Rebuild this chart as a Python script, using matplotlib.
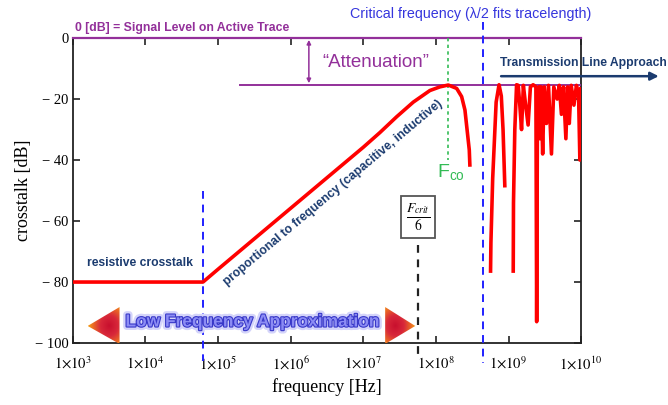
import numpy as np
import matplotlib
matplotlib.use('Agg')
import matplotlib.pyplot as plt
import matplotlib.patheffects as pe
from matplotlib.patches import Polygon
from matplotlib.colors import LinearSegmentedColormap

plt.rcParams['font.family'] = ['Liberation Sans', 'DejaVu Sans']
plt.rcParams['mathtext.fontset'] = 'stix'

# crosstalk vs frequency: resistive plateau, 20 dB/dec rise, roll-off after F_co
lf_freq = [1e3, 6.2e4, 1e5, 1e6, 1e7, 1.69e7, 2.88e7, 4.88e7, 8.26e7, 1.135e8, 1.48e8,
           1.93e8, 2.26e8, 2.51e8, 2.69e8, 2.88e8, 2.94e8]
lf_db = [-80, -80, -75.8, -55.8, -35.8, -31, -25.8, -21, -17.2, -16, -15.4,
         -16.5, -19.2, -23.6, -30.2, -36.7, -42.2]

# transmission line region (first lobe, then the dense resonances)
tl1_freq = [5.65e8, 5.72e8, 6.05e8, 6.75e8, 7.4e8, 7.95e8, 8.4e8, 8.9e8]
tl1_db = [-77, -67, -46, -21, -15.3, -19, -30, -49]
tl2_freq = [1.16e9, 1.17e9, 1.22e9, 1.29e9, 1.36e9, 1.43e9, 1.51e9, 1.6e9, 1.72e9, 1.86e9,
            2.0e9, 2.18e9, 2.38e9, 2.44e9, 2.5e9, 2.62e9, 2.7e9, 2.8e9, 2.95e9, 3.1e9,
            3.33e9, 3.55e9, 3.9e9, 4.2e9, 4.67e9, 5.0e9, 5.35e9, 5.7e9, 6.16e9, 6.5e9,
            6.86e9, 7.3e9, 7.95e9, 8.6e9, 9.2e9, 9.6e9, 9.9e9]
tl2_db = [-77, -54, -30, -15.3, -15.5, -22, -30, -15.5, -22, -28.5,
          -16, -15.3, -16, -93, -25, -16, -33, -16, -38, -16,
          -28, -15.5, -38, -16, -20, -15.5, -25, -16, -33, -16,
          -28, -15.5, -22, -15.5, -18, -40, -16]

f_resistive = 6.2e4      # end of resistive plateau
f_crit6 = 5.6e7          # F_crit / 6
f_crit = 4.5e8           # lambda/2 fits trace length
f_co = lf_freq[int(np.argmax(lf_db))]
peak_db = max(lf_db)

xticks = [1e3, 1e4, 1e5, 1e6, 1e7, 1e8, 1e9, 1e10]
xticklabels = [r'$1{\times}10^{%d}$' % e for e in range(3, 11)]
yticks = [0, -20, -40, -60, -80, -100]
yticklabels = ['0', '\u2212 20', '\u2212 40', '\u2212 60', '\u2212 80', '\u2212 100']

purple = '#93309a'
navy = '#1b3b6f'
blue = '#2020ff'
green = '#33bb55'

fig = plt.figure(figsize=(6.68, 4.05), dpi=100)
ax = fig.add_axes([0.109, 0.153, 0.761, 0.753])
ax.set_xscale('log')
ax.set_xlim(1e3, 1e10)
ax.set_ylim(-100, 0)

ax.plot(lf_freq, lf_db, color='#ff0000', lw=2.6, solid_capstyle='butt', zorder=5)
ax.plot(tl1_freq, tl1_db, color='#ff0000', lw=2.6, solid_capstyle='butt', zorder=5)
ax.plot(tl2_freq, tl2_db, color='#ff0000', lw=2.6, solid_capstyle='butt', zorder=5)

# axes styling
for side in ['left', 'bottom', 'right']:
    ax.spines[side].set_color('#222222')
    ax.spines[side].set_linewidth(1.3)
ax.spines['top'].set_color(purple)
ax.spines['top'].set_linewidth(1.6)
ax.set_xticks(xticks)
ax.set_xticklabels(xticklabels, fontsize=10.5)
ax.minorticks_off()
ax.set_yticks(yticks)
ax.set_yticklabels(yticklabels, fontfamily='Liberation Serif', fontsize=10.5)
ax.tick_params(direction='in', length=5, width=1.2, top=True, right=True, color='#222222')
ax.tick_params(axis='x', pad=9)
ax.tick_params(axis='y', pad=3)
ax.set_xlabel('frequency [Hz]', fontfamily='Liberation Serif', fontsize=13, labelpad=4)
ax.set_ylabel('crosstalk [dB]', fontfamily='Liberation Serif', fontsize=13, labelpad=2)

# vertical marker lines
ax.plot([f_resistive, f_resistive], [-50, -106], color=blue, lw=1.4, ls=(0, (4, 3)),
        clip_on=False, zorder=3)
ax.plot([f_crit, f_crit], [5.2, -106.5], color=blue, lw=1.4, ls=(0, (4, 3)),
        clip_on=False, zorder=3)
ax.plot([f_crit6, f_crit6], [-68, -105], color='#222222', lw=1.6, ls=(0, (3.5, 3)),
        clip_on=False, zorder=3)
ax.plot([f_co, f_co], [0, -40], color=green, lw=1.2, ls=(0, (2, 2)), zorder=3)

# attenuation level
ax.plot([2.0e5, 1e10], [peak_db, peak_db], color=purple, lw=1.4, zorder=4)
ax.annotate('', xy=(1.78e6, -0.6), xytext=(1.78e6, peak_db + 0.6),
            arrowprops=dict(arrowstyle='<|-|>', color=purple, lw=1.1, mutation_scale=6,
                            shrinkA=0, shrinkB=0))
ax.text(2.7e6, -7.9, '\u201cAttenuation\u201d', color=purple, fontsize=13.5, va='center')

ax.text(1.07e3, 1.2, '0 [dB] = Signal Level on Active Trace', color=purple, fontsize=8.8,
        fontweight='bold', va='bottom', clip_on=False)
ax.text(3.0e8, 7.9, 'Critical frequency (\u03bb/2 fits tracelength)', color='#3535dd',
        fontsize=10.3, ha='center', va='center', clip_on=False)

ax.text(7.6e8, -8.2, 'Transmission Line Approach', color=navy, fontsize=8.7, fontweight='bold',
        va='center', clip_on=False)
ax.annotate('', xy=(1.17e11, -12.5), xytext=(7.9e8, -12.5), annotation_clip=False,
            arrowprops=dict(arrowstyle='-|>', color=navy, lw=1.8, mutation_scale=12,
                            shrinkA=0, shrinkB=0))

ax.text(1.05e8, -44, r'$\mathregular{F_{co}}$', color=green, fontsize=14, va='center')

ax.text(f_crit6, -58.7, r'$\frac{F_{crit}}{6}$', fontsize=14, ha='center', va='center',
        bbox=dict(boxstyle='square,pad=0.25', fc='white', ec='#555555', lw=1.3), zorder=6)

ax.text(1.56e3, -73.8, 'resistive crosstalk', color=navy, fontsize=8.7, fontweight='bold',
        va='center')
ax.text(3.87e6, -50.7, 'proportional to frequency (capacitive, inductive)', color=navy,
        fontsize=8.8, fontweight='bold', ha='center', va='center', rotation=40,
        rotation_mode='anchor')

ax.text(3.0e5, -93.1, 'Low Frequency Approximation', color='#8c8cf4', fontsize=12.5,
        fontweight='bold', ha='center', va='center',
        path_effects=[pe.Stroke(linewidth=5, foreground='#d4d4fa'),
                      pe.Stroke(linewidth=1.6, foreground='#3838c8'), pe.Normal()])

# gradient arrow heads either side of the low frequency label
grad_cmap = LinearSegmentedColormap.from_list('tri', ['#c8102e', '#d8283a', '#ee7a20', '#ffd400'])


def gradient_triangle(pts):
    p = ax.transAxes.inverted().transform(ax.transData.transform(pts))
    x0, y0 = p.min(axis=0)
    x1, y1 = p.max(axis=0)
    cx, cy = p.mean(axis=0)
    gx, gy = np.meshgrid(np.linspace(x0, x1, 80), np.linspace(y0, y1, 80))
    d = np.hypot((gx - cx) / (x1 - x0), (gy - cy) / (y1 - y0))
    im = ax.imshow(d / d.max(), extent=[x0, x1, y0, y1], origin='lower', cmap=grad_cmap,
                   transform=ax.transAxes, aspect='auto', zorder=4, interpolation='bilinear')
    tri = Polygon(p, closed=True, transform=ax.transAxes, fc='none', ec='none')
    ax.add_patch(tri)
    im.set_clip_path(tri)


gradient_triangle([(1.6e3, -94.4), (4.4e3, -88.2), (4.4e3, -100.3)])
gradient_triangle([(2.0e7, -88.2), (2.0e7, -100.3), (5.2e7, -94.4)])

ax.set_xlim(1e3, 1e10)
ax.set_ylim(-100, 0)

fig.savefig('out.png', dpi=100)
